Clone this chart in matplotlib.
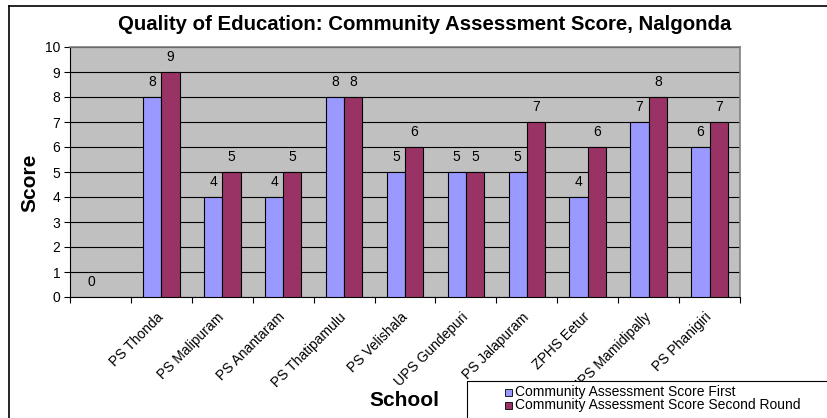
import matplotlib
matplotlib.use("Agg")
import matplotlib.pyplot as plt
import numpy as np
from matplotlib.patches import Rectangle
from matplotlib.lines import Line2D

plt.rcParams['font.family'] = ['Liberation Sans', 'DejaVu Sans']

schools = ["", "PS Thonda", "PS Malipuram", "PS Anantaram", "PS Thatipamulu", "PS Velishala",
           "UPS Gundepuri", "PS Jalapuram", "ZPHS Eetur", "UPS Mamidipally", "PS Phanigiri"]
first_round = [0, 8, 4, 4, 8, 5, 5, 5, 4, 7, 6]
second_round = [None, 9, 5, 5, 8, 6, 5, 7, 6, 8, 7]
series_names = ["Community Assessment Score First", "Community Assessment Score Second Round"]
yticks = list(range(0, 11))

W, H = 827, 418
fig = plt.figure(figsize=(W / 100, H / 100), dpi=100)
ax = fig.add_axes([70 / W, 1 - 297 / H, (740 - 70) / W, (297 - 47) / H])
ax.set_facecolor('#C0C0C0')

n = len(schools)
x = np.arange(n) + 0.5
bw = 0.3
c1, c2 = '#9999FF', '#993366'
lblsize = 10

for i in range(n):
    v1 = first_round[i]
    v2 = second_round[i]
    if v1 is not None:
        if v1 > 0:
            ax.bar(x[i] - bw / 2, v1, bw, color=c1, edgecolor='black', linewidth=0.8, zorder=3)
        ax.annotate(str(v1), (x[i] - bw / 2, v1), xytext=(0, 5.5),
                    textcoords='offset points', ha='center', va='bottom', fontsize=lblsize, zorder=4)
    if v2 is not None:
        ax.bar(x[i] + bw / 2, v2, bw, color=c2, edgecolor='black', linewidth=0.8, zorder=3)
        ax.annotate(str(v2), (x[i] + bw / 2, v2), xytext=(0, 5.5),
                    textcoords='offset points', ha='center', va='bottom', fontsize=lblsize, zorder=4)

ax.set_xlim(0, n)
ax.set_ylim(0, 10)
ax.set_yticks(yticks)
ax.set_yticklabels([str(t) for t in yticks], fontsize=10)
ax.yaxis.grid(True, color='black', linewidth=0.8, zorder=1)
ax.set_axisbelow(True)

ax.set_xticks(np.arange(n + 1))
ax.set_xticklabels([])
ax.set_xticks(x, minor=True)
ax.set_xticklabels(schools, minor=True, rotation=45, ha='right', va='center',
                   rotation_mode='anchor', fontsize=10)
ax.tick_params(axis='x', which='minor', length=0, pad=13)
ax.tick_params(axis='x', which='major', length=4, width=0.8)
ax.tick_params(axis='y', length=4, width=0.8, pad=3)

for s in ['left', 'bottom']:
    ax.spines[s].set_color('black')
    ax.spines[s].set_linewidth(0.8)
for s in ['top', 'right']:
    ax.spines[s].set_color('#808080')
    ax.spines[s].set_linewidth(1.2)

fig.text(425 / W, 1 - 25 / H, "Quality of Education: Community Assessment Score, Nalgonda",
         ha='center', va='center', fontsize=14.7, fontweight='bold')
fig.text(30 / W, 1 - 183 / H, "Score", rotation=90, ha='center', va='center', fontsize=15, fontweight='bold')
fig.text(404 / W, 1 - 401 / H, "School", ha='center', va='center', fontsize=15, fontweight='bold')

# outer chart border
fig.add_artist(Line2D([9 / W, 9 / W], [0, 1 - 6 / H], transform=fig.transFigure, color='black', linewidth=1.2))
fig.add_artist(Line2D([9 / W, 1], [1 - 6 / H, 1 - 6 / H], transform=fig.transFigure, color='black', linewidth=1.2))

# legend box
fig.add_artist(Rectangle((467 / W, -0.05), 1, (418 - 381) / H + 0.05, transform=fig.transFigure,
                         facecolor='white', edgecolor='black', linewidth=0.8, zorder=5))
leg_rows_y = [392, 405]
for name, col, yy in zip(series_names, [c1, c2], leg_rows_y):
    fig.add_artist(Rectangle((505 / W, 1 - (yy + 3.5) / H), 7 / W, 7 / H, transform=fig.transFigure,
                             facecolor=col, edgecolor='black', linewidth=0.6, zorder=6))
    fig.text(515 / W, 1 - yy / H, name, ha='left', va='center', fontsize=10, zorder=7)

fig.savefig('out.png', dpi=100)
